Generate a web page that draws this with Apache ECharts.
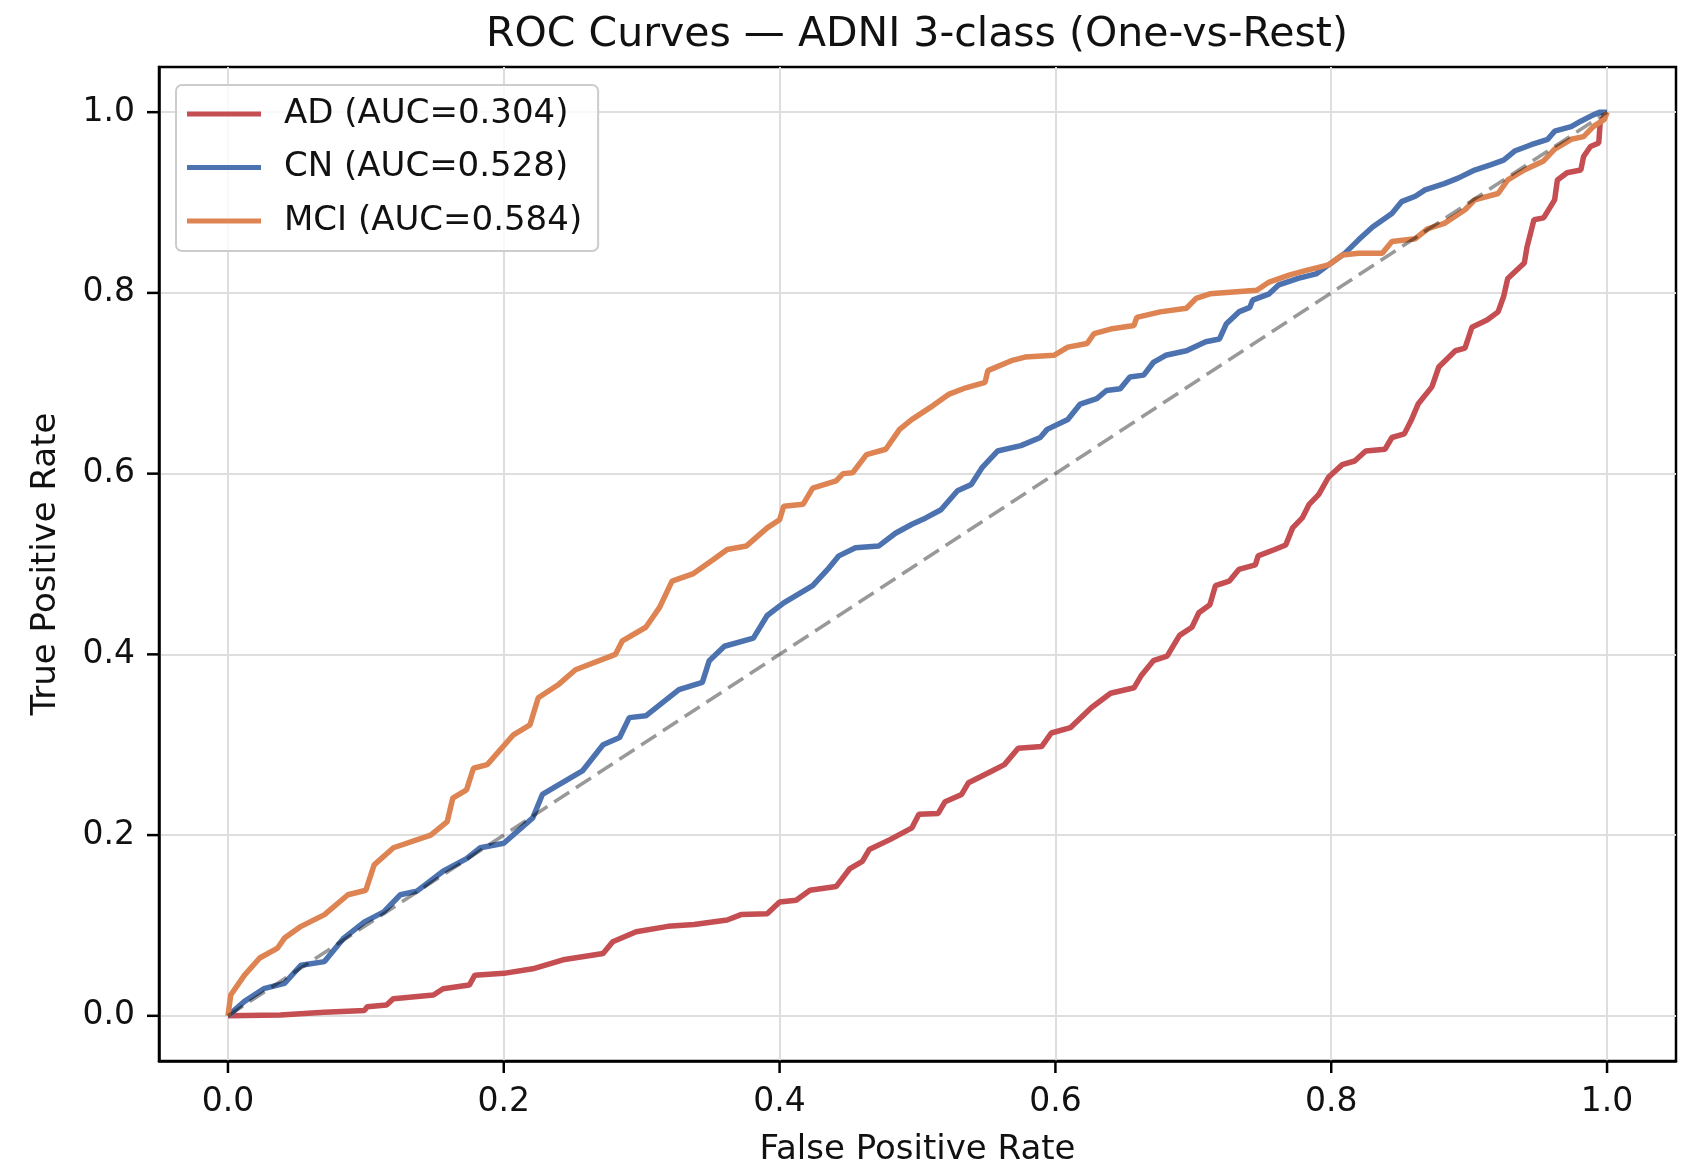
<!DOCTYPE html>
<html>
<head>
<meta charset="utf-8">
<title>ROC Curves</title>
<script src="https://cdn.jsdelivr.net/npm/echarts@6/dist/echarts.min.js"></script>
<style>
  html, body { margin: 0; padding: 0; background: #fff; }
  #chart { width: 1692px; height: 1163px; }
</style>
</head>
<body>
<div id="chart"></div>
<script>
// ROC points, [fpr, tpr]
const adRoc = [
  [0, 0], [0.038, 0.001], [0.070, 0.004], [0.099, 0.006], [0.101, 0.010], [0.115, 0.012],
  [0.120, 0.019], [0.149, 0.023], [0.156, 0.030], [0.175, 0.034], [0.179, 0.045], [0.200, 0.047],
  [0.221, 0.052], [0.243, 0.062], [0.272, 0.069], [0.279, 0.082], [0.296, 0.093], [0.319, 0.099],
  [0.338, 0.101], [0.362, 0.106], [0.372, 0.112], [0.391, 0.113], [0.400, 0.126], [0.412, 0.128],
  [0.422, 0.139], [0.441, 0.143], [0.451, 0.163], [0.460, 0.171], [0.465, 0.184], [0.480, 0.195],
  [0.496, 0.208], [0.501, 0.223], [0.515, 0.224], [0.520, 0.237], [0.532, 0.245], [0.537, 0.258],
  [0.554, 0.271], [0.563, 0.278], [0.573, 0.296], [0.590, 0.298], [0.597, 0.313], [0.611, 0.319],
  [0.626, 0.341], [0.640, 0.357], [0.657, 0.363], [0.662, 0.376], [0.671, 0.393], [0.681, 0.398],
  [0.690, 0.421], [0.699, 0.430], [0.704, 0.446], [0.712, 0.455], [0.716, 0.476], [0.726, 0.481],
  [0.733, 0.494], [0.745, 0.499], [0.747, 0.509], [0.759, 0.516], [0.767, 0.521], [0.772, 0.540],
  [0.779, 0.551], [0.784, 0.566], [0.791, 0.577], [0.798, 0.596], [0.808, 0.610], [0.817, 0.614],
  [0.825, 0.625], [0.839, 0.627], [0.844, 0.640], [0.853, 0.644], [0.858, 0.659], [0.863, 0.677],
  [0.873, 0.696], [0.878, 0.718], [0.890, 0.736], [0.897, 0.739], [0.902, 0.762], [0.913, 0.770],
  [0.921, 0.779], [0.925, 0.796], [0.928, 0.816], [0.940, 0.833], [0.942, 0.851], [0.947, 0.881],
  [0.954, 0.883], [0.962, 0.903], [0.964, 0.925], [0.971, 0.933], [0.981, 0.936], [0.983, 0.951],
  [0.988, 0.962], [0.994, 0.966], [0.995, 0.988], [1, 1]
];
const cnRoc = [
  [0, 0], [0.012, 0.016], [0.026, 0.030], [0.041, 0.036], [0.053, 0.056], [0.070, 0.060],
  [0.084, 0.086], [0.099, 0.104], [0.113, 0.115], [0.125, 0.134], [0.137, 0.138], [0.156, 0.160],
  [0.173, 0.174], [0.183, 0.186], [0.200, 0.191], [0.221, 0.219], [0.228, 0.245], [0.257, 0.271],
  [0.272, 0.300], [0.284, 0.308], [0.291, 0.330], [0.303, 0.332], [0.327, 0.361], [0.344, 0.369],
  [0.349, 0.393], [0.360, 0.409], [0.381, 0.418], [0.391, 0.443], [0.403, 0.457], [0.424, 0.476],
  [0.436, 0.496], [0.443, 0.509], [0.455, 0.518], [0.472, 0.520], [0.484, 0.534], [0.496, 0.544],
  [0.506, 0.551], [0.517, 0.560], [0.529, 0.581], [0.539, 0.588], [0.547, 0.607], [0.558, 0.625],
  [0.575, 0.631], [0.589, 0.640], [0.594, 0.649], [0.609, 0.660], [0.618, 0.677], [0.630, 0.683],
  [0.637, 0.692], [0.647, 0.694], [0.654, 0.707], [0.664, 0.709], [0.671, 0.723], [0.680, 0.731],
  [0.695, 0.736], [0.709, 0.746], [0.719, 0.749], [0.724, 0.766], [0.733, 0.779], [0.741, 0.784],
  [0.743, 0.792], [0.755, 0.799], [0.762, 0.809], [0.776, 0.816], [0.789, 0.821], [0.798, 0.831],
  [0.810, 0.844], [0.820, 0.859], [0.830, 0.873], [0.844, 0.888], [0.851, 0.901], [0.861, 0.907],
  [0.868, 0.914], [0.882, 0.921], [0.892, 0.927], [0.904, 0.936], [0.916, 0.942], [0.925, 0.947],
  [0.933, 0.957], [0.945, 0.964], [0.957, 0.970], [0.962, 0.979], [0.974, 0.984], [0.981, 0.990],
  [0.990, 0.997], [0.995, 1.0], [1, 1]
];
const mciRoc = [
  [0, 0], [0.002, 0.023], [0.012, 0.045], [0.023, 0.064], [0.036, 0.075], [0.041, 0.086],
  [0.053, 0.099], [0.070, 0.112], [0.087, 0.134], [0.100, 0.139], [0.106, 0.167], [0.120, 0.186],
  [0.147, 0.200], [0.159, 0.215], [0.163, 0.241], [0.173, 0.250], [0.178, 0.274], [0.188, 0.278],
  [0.207, 0.311], [0.219, 0.322], [0.225, 0.352], [0.240, 0.367], [0.252, 0.383], [0.281, 0.400],
  [0.286, 0.415], [0.303, 0.430], [0.313, 0.452], [0.322, 0.481], [0.337, 0.489], [0.352, 0.505],
  [0.362, 0.516], [0.376, 0.520], [0.391, 0.540], [0.400, 0.549], [0.403, 0.564], [0.417, 0.566],
  [0.424, 0.584], [0.441, 0.592], [0.446, 0.600], [0.453, 0.601], [0.463, 0.621], [0.477, 0.627],
  [0.487, 0.649], [0.496, 0.660], [0.511, 0.675], [0.523, 0.688], [0.535, 0.695], [0.549, 0.701],
  [0.551, 0.714], [0.568, 0.725], [0.578, 0.729], [0.599, 0.731], [0.609, 0.740], [0.623, 0.744],
  [0.628, 0.755], [0.640, 0.760], [0.657, 0.764], [0.659, 0.773], [0.676, 0.779], [0.695, 0.783],
  [0.702, 0.794], [0.712, 0.799], [0.746, 0.803], [0.755, 0.812], [0.770, 0.820], [0.782, 0.825],
  [0.798, 0.831], [0.808, 0.842], [0.820, 0.844], [0.837, 0.844], [0.844, 0.857], [0.861, 0.860],
  [0.870, 0.871], [0.882, 0.877], [0.897, 0.892], [0.904, 0.903], [0.921, 0.910], [0.928, 0.925],
  [0.940, 0.936], [0.954, 0.946], [0.962, 0.959], [0.974, 0.970], [0.983, 0.973], [0.990, 0.984],
  [0.998, 0.992], [1, 1]
];
const chanceLine = [[0, 0], [1, 1]];
const seriesNames = ["AD (AUC=0.304)", "CN (AUC=0.528)", "MCI (AUC=0.584)"];
const tickValues = [0, 0.2, 0.4, 0.6, 0.8, 1.0];

const font = "DejaVu Sans";
const axisMin = -0.05;
const tickLen = 12;
const chart = echarts.init(document.getElementById("chart"));

function axisOpts(name, pos) {
  const isX = pos === "bottom";
  return {
    type: "value",
    min: axisMin,
    max: 1.05,
    position: pos,
    name: name,
    nameLocation: "middle",
    nameGap: isX ? 72 : 96,
    nameTextStyle: { fontFamily: font, fontSize: 34, color: "#111" },
    axisLine: { show: true, onZero: false, lineStyle: { color: "#000", width: 2.5 } },
    axisTick: { show: false, customValues: tickValues },
    axisLabel: {
      customValues: tickValues,
      margin: isX ? 25 : 24,
      fontFamily: font,
      fontSize: 33,
      color: "#111",
      formatter: (v) => v.toFixed(1),
    },
    splitLine: {
      show: true,
      lineStyle: { color: "#dedede", width: 2 },
    },
  };
}

chart.setOption({
  backgroundColor: "#fff",
  animation: false,
  title: {
    text: "ROC Curves — ADNI 3-class (One-vs-Rest)",
    left: 917,
    top: 15,
    padding: 0,
    textAlign: "center",
    textStyle: { fontFamily: font, fontSize: 41, fontWeight: "normal", color: "#111" },
  },
  grid: {
    left: 159,
    right: 16,
    top: 67,
    bottom: 102,
    outerBoundsMode: "none",
    containLabel: false,
    show: true,
    borderColor: "#000",
    borderWidth: 2.5,
    backgroundColor: "#fff",
  },
  legend: {
    data: seriesNames,
    orient: "vertical",
    left: 176,
    top: 85,
    padding: [12, 16, 13, 11],
    icon: "rect",
    itemWidth: 74,
    itemHeight: 5,
    itemGap: 19.5,
    backgroundColor: "rgba(255,255,255,0.8)",
    borderColor: "#cccccc",
    borderWidth: 2,
    borderRadius: 6,
    textStyle: {
      fontFamily: font,
      fontSize: 34,
      lineHeight: 34,
      color: "#111",
      padding: [0, 0, 0, 18],
    },
  },
  xAxis: axisOpts("False Positive Rate", "bottom"),
  yAxis: axisOpts("True Positive Rate", "left"),
  series: [
    {
      name: seriesNames[0],
      type: "line",
      data: adRoc,
      symbol: "none",
      lineStyle: { color: "#C44E52", width: 5.5 },
      itemStyle: { color: "#C44E52" },
    },
    {
      name: seriesNames[1],
      type: "line",
      data: cnRoc,
      symbol: "none",
      lineStyle: { color: "#4C72B0", width: 5.5 },
      itemStyle: { color: "#4C72B0" },
    },
    {
      name: seriesNames[2],
      type: "line",
      data: mciRoc,
      symbol: "none",
      lineStyle: { color: "#DD8452", width: 5.5 },
      itemStyle: { color: "#DD8452" },
    },
    {
      name: "chance",
      type: "line",
      data: chanceLine,
      symbol: "none",
      lineStyle: { color: "#000", opacity: 0.4, width: 3.5, type: [18, 8] },
      z: 3,
    },
  ],
});

// outward tick marks, placed through the axes' own scales
const frameBottom = chart.convertToPixel({ yAxisIndex: 0 }, axisMin);
const frameLeft = chart.convertToPixel({ xAxisIndex: 0 }, axisMin);
const tickStyle = { stroke: "#000", lineWidth: 2.5 };
const ticks = [];
tickValues.forEach((v) => {
  const x = chart.convertToPixel({ xAxisIndex: 0 }, v);
  const y = chart.convertToPixel({ yAxisIndex: 0 }, v);
  ticks.push({
    type: "line", silent: true, z: 100,
    shape: { x1: x, y1: frameBottom, x2: x, y2: frameBottom + tickLen },
    style: tickStyle,
  });
  ticks.push({
    type: "line", silent: true, z: 100,
    shape: { x1: frameLeft - tickLen, y1: y, x2: frameLeft, y2: y },
    style: tickStyle,
  });
});
chart.setOption({ graphic: ticks });
</script>
</body>
</html>
